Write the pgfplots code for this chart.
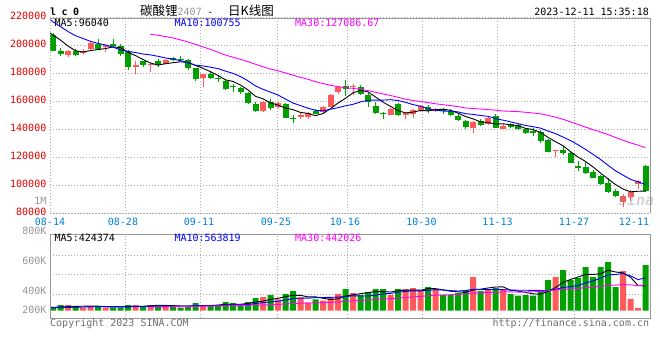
\documentclass[border=0pt]{standalone}
\usepackage{pgfplots}
\pgfplotsset{compat=1.18}
\usepackage{pgfplotstable}
\usepackage{fontspec}
\setmainfont{DejaVu Sans Mono}
\newfontfamily\cjk{Noto Sans CJK SC}
\newfontfamily\lcfont[LetterSpace=55]{DejaVu Sans Mono}
\definecolor{cred}{RGB}{255,90,90}
\definecolor{cgreen}{RGB}{0,160,0}
\definecolor{pricered}{RGB}{230,0,0}
\definecolor{dateblue}{RGB}{0,128,215}
\definecolor{gridgray}{RGB}{175,175,175}
\definecolor{framegray}{RGB}{153,153,153}
\definecolor{txtgray}{RGB}{150,150,150}
\definecolor{foot}{RGB}{110,110,110}
\definecolor{maten}{RGB}{0,0,255}
\definecolor{mathirty}{RGB}{255,0,255}
\newcommand\f{\fontsize{10}{12}\selectfont}
\tikzset{kgrid/.style={gridgray, dash pattern=on 1pt off 2pt, line width=1pt}}
\pgfplotsset{
  candle/.style={only marks, mark=*, mark size=0pt, mark options={draw=none, fill=none}, forget plot,
    error bars/.cd, y dir=plus, y explicit, error mark=none},
}

% up days (red): i open high low close volume(K)
\pgfplotstableread{
i o h l c v
2 193452 196800 191548 196310 97
4 194643 197738 194167 196310 52
5 197738 202976 196548 201548 80
7 198690 200600 195357 200119 52
11 184881 188690 179643 186071 97
13 186310 187500 180833 187024 97
15 187024 190595 186786 189881 80
20 176548 179600 170595 179405 97
28 153214 160357 152738 159881 235
30 156310 159881 155595 159167 195
33 149167 152262 147262 150119 229
34 149167 152262 147500 152024 138
36 152262 156786 152024 156071 172
37 156310 165357 155833 164881 229
38 167024 171310 165119 170119 287
40 170595 172262 164643 170833 304
45 150357 155595 150119 154881 269
47 150357 152262 147500 151548 372
48 151310 154643 148452 154167 390
49 154167 157500 152738 156786 355
51 153214 155119 152738 154405 372
56 140833 146071 137738 145595 579
58 143690 148929 143214 147976 372
60 140595 143690 140100 142500 372
67 124405 125600 120119 125357 579
76 88452 93929 84881 92500 682
77 91548 96786 89167 95595 201
78 101071 103929 97262 103214 46
}\uptab

% down days (green)
\pgfplotstableread{
i o h l c v
0 207738 209000 195800 196300 57
1 196071 198214 192500 194167 97
3 196310 197738 192500 193452 80
6 201310 204643 197024 197738 80
8 201071 204643 198690 199405 52
9 199642 201071 192500 193690 52
10 195357 197024 182738 184881 97
12 188690 189167 184405 185833 80
14 188690 190595 184405 186310 97
16 191071 192024 188929 189405 80
17 190595 192500 188929 189643 52
18 189643 190357 182738 184167 80
19 183690 184167 174881 176071 132
21 179405 181786 176071 177024 80
22 177024 178929 174167 176071 97
23 174881 176071 168214 168690 149
24 170833 172262 166548 170357 132
25 169881 170595 165357 167024 97
26 166071 167024 158214 159167 149
27 158214 159881 152738 153214 218
29 159405 161786 153929 155595 269
31 157976 158690 147976 148452 287
32 148452 150357 144405 147738 338
35 152976 154405 150833 151310 195
39 171071 175357 163929 168929 372
41 170595 171786 164643 165357 269
42 164643 165833 156310 159405 321
43 156786 159881 151071 151548 372
44 152024 152500 147500 151071 372
46 157976 159167 149881 150357 372
50 156071 157500 151548 153452 407
52 154405 155119 151310 153452 269
53 153214 154643 149881 150357 269
54 149881 150833 146071 146786 304
55 146071 146786 140595 141548 355
57 146071 147500 142500 143214 338
59 149643 150833 140833 141310 390
61 144167 144643 141310 141786 287
62 142976 144167 139643 140595 258
63 140119 141310 136786 137738 269
64 138690 140833 135595 137262 258
65 138214 139643 130595 132024 355
66 132500 132976 123690 124167 527
68 125357 128214 121786 122976 699
69 123452 123929 115833 116310 527
70 113929 117738 110357 112738 562
71 112976 117024 108214 108690 751
72 109881 111071 105119 105595 579
73 106786 107500 100595 101071 751
74 101548 105119 94881 95595 837
75 96310 97262 92024 92738 407
79 113929 114643 95595 96071 785
}\downtab

% price moving averages
\pgfplotstableread{
i m5 m10
-1 211000 221000
0 207500 217000
1 203900 213500
2 199600 210000
3 196300 207000
4 195300 205000
5 196400 203000
6 197100 201500
7 197800 200400
8 199000 198800
9 198500 196900
10 195200 195800
11 192800 195000
12 190000 193900
13 187500 193300
14 186000 192300
15 187000 191100
16 187700 190300
17 188400 189200
18 187900 187700
19 185800 185900
20 183700 185400
21 181300 184500
22 178600 183500
23 175500 181700
24 174300 180100
25 171800 177800
26 168300 174800
27 163700 171100
28 161900 168700
29 159000 166700
30 157400 164600
31 155300 161800
32 154200 158900
33 152200 157100
34 151500 155200
35 149900 153700
36 151400 153400
37 154900 154500
38 158900 155600
39 162300 156900
40 166200 158000
41 168000 159700
42 166900 160900
43 163200 161000
44 159600 161000
45 156500 161300
46 153500 160700
47 151900 159400
48 152400 157800
49 153600 156600
50 153300 154900
51 154100 153800
52 154500 153200
53 153700 153100
54 151700 152600
55 149300 151300
56 147600 150800
57 145500 150000
58 145000 149400
59 143900 147800
60 144100 146700
61 143400 145500
62 142800 144200
63 140800 142900
64 140000 142000
65 137900 141000
66 134400 138900
67 131300 137100
68 128400 134600
69 124200 132100
70 120300 129100
71 117200 125800
72 113300 122300
73 108900 118600
74 104700 114500
75 100700 110500
76 97500 107400
77 95500 104400
78 95900 102600
79 96040 100755
}\pricema

\pgfplotstableread{
i m30
13 208000
14 207300
15 206400
16 205400
17 204000
18 202500
19 200800
20 199000
21 197200
22 195200
23 193200
24 191600
25 190100
26 188500
27 186600
28 184800
29 183200
30 181900
31 180400
32 178800
33 177300
34 175900
35 174200
36 172800
37 171600
38 170600
39 169800
40 169400
41 168700
42 167800
43 166600
44 165400
45 164300
46 163000
47 161700
48 160700
49 160000
50 159200
51 158400
52 157700
53 157100
54 156300
55 155400
56 155000
57 154600
58 154200
59 153800
60 153200
61 153000
62 152800
63 152300
64 151800
65 151200
66 150100
67 148800
68 147300
69 145500
70 143600
71 141700
72 139900
73 138200
74 136400
75 134300
76 132300
77 130500
78 128800
79 127087
}\pricemathirty

% volume moving averages (K)
\pgfplotstableread{
i m5 m10
-1 55 50
0 57 52
1 63 54
2 69 57
3 74 60
4 77 63
5 81 66
6 78 69
7 69 69
8 63 69
9 63 70
10 66 74
11 70 74
12 76 72
13 85 74
14 94 79
15 91 79
16 87 79
17 81 79
18 78 81
19 85 89
20 88 89
21 88 88
22 97 89
23 111 95
24 111 98
25 111 100
26 125 107
27 149 123
28 166 139
29 194 152
30 213 162
31 241 183
32 265 207
33 264 215
34 237 215
35 237 225
36 214 227
37 193 229
38 204 234
39 251 244
40 273 255
41 292 253
42 311 252
43 328 266
44 328 289
45 321 297
46 342 317
47 352 331
48 355 342
49 352 340
50 379 350
51 379 360
52 359 355
53 335 345
54 324 338
55 314 347
56 355 367
57 369 364
58 390 362
59 407 366
60 410 362
61 352 354
62 336 352
63 315 352
64 289 348
65 285 348
66 333 343
67 398 367
68 484 399
69 537 413
70 579 432
71 623 478
72 623 511
73 634 559
74 696 617
75 665 622
76 651 637
77 575 599
78 434 534
79 424 564
}\volma

\pgfplotstableread{
i m30
13 63
16 69
20 77
24 86
28 97
29 104
30 108
31 115
32 123
33 128
34 131
35 135
36 138
37 143
38 151
39 162
40 169
41 175
42 183
43 192
44 201
45 207
46 217
47 227
48 238
49 245
50 256
51 265
52 271
53 275
54 281
55 289
56 304
57 308
58 312
59 316
60 323
61 323
62 320
63 321
64 325
65 331
66 342
67 354
68 368
69 373
70 382
71 398
72 406
73 419
74 434
75 439
76 449
77 444
78 432
79 442
}\volmathirty

\begin{document}
\begin{tikzpicture}[font=\f]
\path[use as bounding box] (0pt,0pt) rectangle (660pt,-360pt);

% ---------------- price panel ----------------
\begin{axis}[
  at={(50pt,-17.5pt)}, anchor=north west,
  scale only axis, width=600pt, height=196pt,
  xmin=-0.4, xmax=79.6, ymin=80000, ymax=220000,
  axis line style={draw=none},
  major tick length=0pt, tick style={draw=none},
  scaled y ticks=false,
  ytick={80000,100000,120000,140000,160000,180000,200000,220000},
  yticklabels={80000,100000,120000,140000,160000,180000,200000,220000},
  yticklabel style={anchor=east, inner sep=0pt, xshift=-3.5pt, yshift=1.6pt, text=pricered, font=\f},
  xtick={-0.4,9.33,19.47,29.73,38.93,49.13,59.27,69.47,77.47},
  xticklabels={08-14,08-28,09-11,09-25,10-16,10-30,11-13,11-27,12-11},
  xticklabel style={anchor=north, inner sep=0pt, yshift=-4.6pt, text=dateblue, font=\f},
  extra x ticks={9.6,19.73,29.87,39.2,49.2,59.33,69.47},
  extra x tick labels={},
  extra x tick style={grid=major},
  ymajorgrids=true,
  major grid style={kgrid},
]
% wicks
\addplot[candle, error bar style={line width=1pt, draw=cgreen}]
  table[x=i, y=l, y error plus expr={\thisrow{h}-\thisrow{l}}] {\downtab};
\addplot[candle, error bar style={line width=1pt, draw=cred}]
  table[x=i, y=l, y error plus expr={\thisrow{h}-\thisrow{l}}] {\uptab};
% bodies
\addplot[candle, error bar style={line width=6pt, draw=cgreen}]
  table[x=i, y=c, y error plus expr={\thisrow{o}-\thisrow{c}}] {\downtab};
\addplot[candle, error bar style={line width=6pt, draw=cred}]
  table[x=i, y=o, y error plus expr={\thisrow{c}-\thisrow{o}}] {\uptab};
% moving averages
\addplot[black, line width=0.9pt, mark=none] table[x=i, y=m5] {\pricema};
\addplot[maten, line width=0.9pt, mark=none] table[x=i, y=m10] {\pricema};
\addplot[mathirty, line width=0.9pt, mark=none] table[x=i, y=m30] {\pricemathirty};
\end{axis}

% ---------------- volume panel ----------------
\begin{axis}[
  at={(50pt,-234.3pt)}, anchor=north west,
  scale only axis, width=600pt, height=84pt,
  xmin=-0.4, xmax=79.6, ymin=-131, ymax=1313,
  axis line style={draw=none},
  major tick length=0pt, tick style={draw=none},
  xtick={9.6,19.73,29.87,39.2,49.2,59.33,69.47},
  xticklabels={},
  ytick={270,614,957},
  yticklabels={},
  xmajorgrids=true, ymajorgrids=true,
  major grid style={kgrid},
]
\addplot[ybar, bar width=6pt, bar shift=0pt, fill=cgreen, draw=none, forget plot]
  table[x=i, y=v] {\downtab};
\addplot[ybar, bar width=6pt, bar shift=0pt, fill=cred, draw=none, forget plot]
  table[x=i, y=v] {\uptab};
\addplot[black, line width=0.9pt, mark=none] table[x=i, y=m5] {\volma};
\addplot[maten, line width=0.9pt, mark=none] table[x=i, y=m10] {\volma};
\addplot[mathirty, line width=0.9pt, mark=none] table[x=i, y=m30] {\volmathirty};
\end{axis}

% frames
\draw[framegray, line width=1pt] (50pt,-18.5pt) -- (650pt,-18.5pt) -- (650pt,-213pt);
\draw[kgrid] (50pt,-18.5pt) -- (50pt,-213pt) -- (650pt,-213pt);
\draw[framegray, line width=1pt] (50pt,-234.6pt) rectangle (650pt,-318.3pt);

% header texts
\node[anchor=base west, inner sep=0pt] at (50pt,-15pt) {\lcfont\bfseries lc0};
\node[anchor=base west, inner sep=0pt] at (140pt,-15.2pt) {\cjk\fontsize{12.5}{14}\selectfont 碳酸锂};
\node[anchor=base west, inner sep=0pt, text=txtgray] at (177.5pt,-15.2pt) {2407};
\node[anchor=base, inner sep=0pt] at (210.5pt,-15.2pt) {-};
\node[anchor=base west, inner sep=0pt] at (228pt,-15.2pt) {\cjk\fontsize{12.5}{14}\selectfont 日K线图};
\node[anchor=base east, inner sep=0pt] at (649pt,-15.7pt) {2023-12-11 15:35:18};

% MA legends
\node[anchor=base west, inner sep=0pt] at (54.5pt,-26.7pt) {MA5:96040};
\node[anchor=base west, inner sep=0pt, text=maten] at (174.3pt,-26.7pt) {MA10:100755};
\node[anchor=base west, inner sep=0pt, text=mathirty] at (295pt,-26.7pt) {MA30:127086.67};
\node[anchor=base west, inner sep=0pt] at (54.5pt,-241.7pt) {MA5:424374};
\node[anchor=base west, inner sep=0pt, text=maten] at (174.3pt,-241.7pt) {MA10:563819};
\node[anchor=base west, inner sep=0pt, text=mathirty] at (295pt,-241.7pt) {MA30:442026};

% volume scale labels
\node[anchor=base east, inner sep=0pt, text=txtgray] at (46.7pt,-204pt) {1M};
\node[anchor=base east, inner sep=0pt, text=txtgray] at (46.7pt,-234.3pt) {800K};
\node[anchor=base east, inner sep=0pt, text=txtgray] at (46.7pt,-264.3pt) {600K};
\node[anchor=base east, inner sep=0pt, text=txtgray] at (46.7pt,-294.3pt) {400K};
\node[anchor=base east, inner sep=0pt, text=txtgray] at (46.7pt,-313.6pt) {200K};

% footer
\node[anchor=base west, inner sep=0pt, text=foot] at (50pt,-326.7pt) {Copyright 2023 SINA.COM};
\node[anchor=base east, inner sep=0pt, text=foot] at (649.3pt,-326.7pt) {http://finance.sina.com.cn};

% watermark
\node[inner sep=0pt, text=gray, opacity=0.35, font=\bfseries\itshape\fontsize{15}{15}\selectfont] at (636pt,-200pt) {sina};
\end{tikzpicture}
\end{document}
